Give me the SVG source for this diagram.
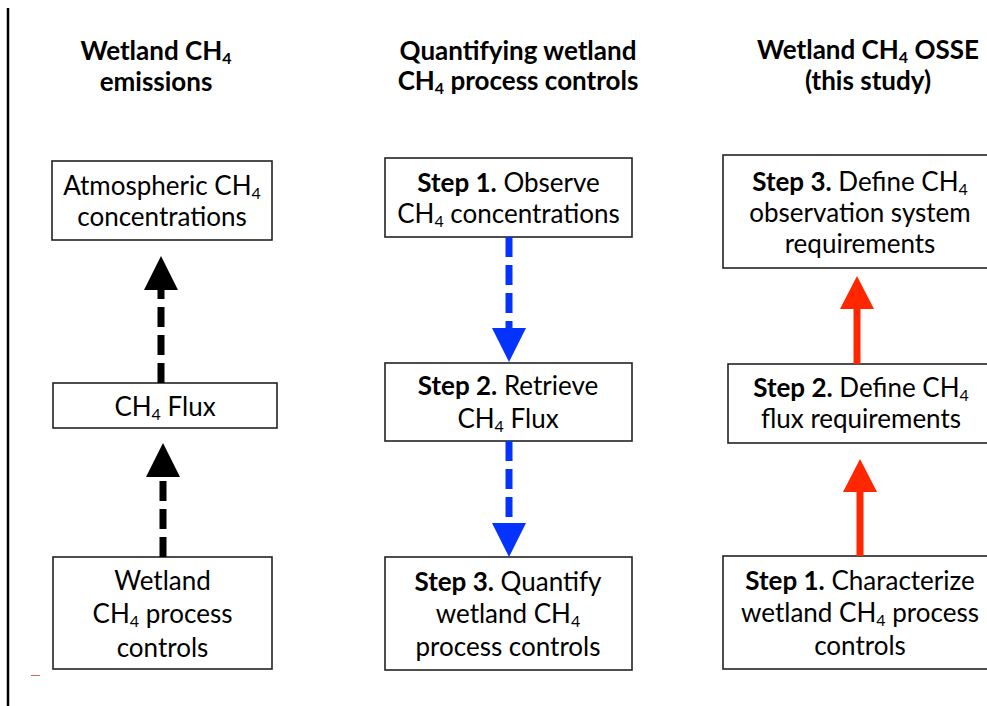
<svg xmlns="http://www.w3.org/2000/svg" width="987" height="706" viewBox="0 0 987 706">
<style>
  .box { fill: #ffffff; stroke: #222222; stroke-width: 1.6; }
  .t { font-family: Lato, "Liberation Sans", sans-serif; font-size: 26px; fill: #000000; text-anchor: middle; }
  .h { font-family: Lato, "Liberation Sans", sans-serif; font-size: 26px; font-weight: bold; fill: #000000; text-anchor: middle; }
  .b { font-weight: bold; }
  .s { font-size: 16px; }
  .blk { stroke: #000000; stroke-width: 7; stroke-dasharray: 20 8; fill: none; }
  .blu { stroke: #0433ff; stroke-width: 7; stroke-dasharray: 20 8; fill: none; }
  .red { stroke: #ff2600; stroke-width: 7; fill: none; }
</style>
<rect width="987" height="706" fill="#ffffff"/>
<line x1="8" y1="8" x2="8" y2="706" stroke="#000000" stroke-width="2.5"/>
<line x1="31" y1="675.5" x2="40" y2="675.5" stroke="#e06060" stroke-width="1"/>

<g id="title-left">
  <text class="h" x="156" y="60">Wetland CH<tspan class="s" dy="4">4</tspan></text>
  <text class="h" x="156" y="91">emissions</text>
</g>
<g id="title-middle">
  <text class="h" x="518" y="60">Quantifying wetland</text>
  <text class="h" x="518" y="90">CH<tspan class="s" dy="4">4</tspan><tspan dy="-4"> process controls</tspan></text>
</g>
<g id="title-right">
  <text class="h" x="868" y="59">Wetland CH<tspan class="s" dy="4">4</tspan><tspan dy="-4"> OSSE</tspan></text>
  <text class="h" x="868" y="90">(this study)</text>
</g>

<g id="left-atmospheric">
  <rect class="box" x="52" y="161" width="220" height="79"/>
  <text class="t" x="162" y="195">Atmospheric CH<tspan class="s" dy="4">4</tspan></text>
  <text class="t" x="162" y="226">concentrations</text>
</g>
<g id="left-flux">
  <rect class="box" x="53" y="383" width="224" height="45"/>
  <text class="t" x="165" y="416">CH<tspan class="s" dy="4">4</tspan><tspan dy="-4"> Flux</tspan></text>
</g>
<g id="left-controls">
  <rect class="box" x="53" y="557" width="219" height="112"/>
  <text class="t" x="162.5" y="590">Wetland</text>
  <text class="t" x="162.5" y="623">CH<tspan class="s" dy="4">4</tspan><tspan dy="-4"> process</tspan></text>
  <text class="t" x="162.5" y="657">controls</text>
</g>

<g id="mid-step1">
  <rect class="box" x="385" y="158" width="247" height="79"/>
  <text class="t" x="508.5" y="192"><tspan class="b">Step 1.</tspan> Observe</text>
  <text class="t" x="508.5" y="223">CH<tspan class="s" dy="4">4</tspan><tspan dy="-4"> concentrations</tspan></text>
</g>
<g id="mid-step2">
  <rect class="box" x="385" y="363" width="247" height="78"/>
  <text class="t" x="508" y="395"><tspan class="b">Step 2.</tspan> Retrieve</text>
  <text class="t" x="508" y="428">CH<tspan class="s" dy="4">4</tspan><tspan dy="-4"> Flux</tspan></text>
</g>
<g id="mid-step3">
  <rect class="box" x="385" y="557" width="247" height="113"/>
  <text class="t" x="508" y="591"><tspan class="b">Step 3.</tspan> Quantify</text>
  <text class="t" x="508" y="623">wetland CH<tspan class="s" dy="4">4</tspan></text>
  <text class="t" x="508" y="656">process controls</text>
</g>

<g id="right-step3">
  <rect class="box" x="723" y="155" width="274" height="113"/>
  <text class="t" x="860" y="191"><tspan class="b">Step 3.</tspan> Define CH<tspan class="s" dy="4">4</tspan></text>
  <text class="t" x="860" y="222">observation system</text>
  <text class="t" x="860" y="253">requirements</text>
</g>
<g id="right-step2">
  <rect class="box" x="728" y="364" width="268" height="79"/>
  <text class="t" x="861" y="397"><tspan class="b">Step 2.</tspan> Define CH<tspan class="s" dy="4">4</tspan></text>
  <text class="t" x="861" y="428">flux requirements</text>
</g>
<g id="right-step1">
  <rect class="box" x="723" y="556" width="274" height="113"/>
  <text class="t" x="860" y="590"><tspan class="b">Step 1.</tspan> Characterize</text>
  <text class="t" x="860" y="622">wetland CH<tspan class="s" dy="4">4</tspan><tspan dy="-4"> process</tspan></text>
  <text class="t" x="860" y="655">controls</text>
</g>

<g id="connectors">
  <line class="blk" x1="161" y1="383" x2="161" y2="289"/>
  <polygon points="161,256 144,290 178,290" fill="#000000"/>
  <line class="blk" x1="163" y1="557" x2="163" y2="476"/>
  <polygon points="163,443 146,477 180,477" fill="#000000"/>
  <line class="blu" x1="509" y1="237" x2="509" y2="329"/>
  <polygon points="492,328 526,328 509,362" fill="#0433ff"/>
  <line class="blu" x1="509" y1="441" x2="509" y2="524"/>
  <polygon points="492,523 526,523 509,557" fill="#0433ff"/>
  <line class="red" x1="857" y1="364" x2="857" y2="308"/>
  <polygon points="857,276 840,309 874,309" fill="#ff2600"/>
  <line class="red" x1="860" y1="556" x2="860" y2="491"/>
  <polygon points="860,459 843,492 877,492" fill="#ff2600"/>
</g>
</svg>
